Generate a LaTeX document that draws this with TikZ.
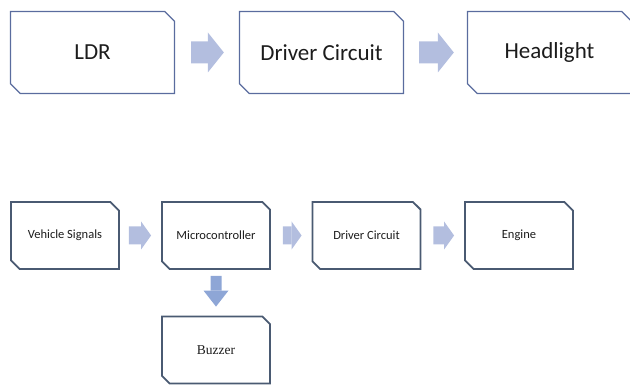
\documentclass[tikz,border=0pt]{standalone}
\usepackage{fontspec}
\setmainfont{Carlito}
\newfontfamily\buzzerfont{Liberation Serif}
\usetikzlibrary{shapes.misc,arrows.meta}

\definecolor{edgeblue}{HTML}{5A6C9E}
\definecolor{edgegrey}{HTML}{4A5A72}
\definecolor{flowfill}{HTML}{B3BEDF}
\definecolor{downfill}{HTML}{8EA6D6}
\definecolor{inktext}{HTML}{1C1C1C}

\tikzset{
  cutbox/.style={chamfered rectangle, chamfered rectangle corners={north east,south west},
    inner sep=0pt, text=inktext},
  bigbox/.style={cutbox, chamfered rectangle xsep=6.5pt,
    draw=edgeblue, line width=1.3pt, minimum width=164pt, minimum height=82pt,
    font=\fontsize{23}{27}\selectfont},
  smallbox/.style={cutbox, chamfered rectangle xsep=6pt,
    draw=edgegrey, line width=1.8pt, minimum width=108pt, minimum height=67pt,
    font=\fontsize{12.5}{15}\selectfont},
  bigflow/.style={draw=flowfill, line width=22pt,
    -{Triangle[width=40pt,length=16pt,line width=0pt]}},
  smallflow/.style={draw=flowfill, line width=18pt,
    -{Triangle[width=28pt,length=10pt,line width=0pt]}},
  downflow/.style={draw=downfill, line width=11pt,
    -{Triangle[width=25pt,length=16pt,line width=0pt]}}
}

\begin{document}
\begin{tikzpicture}[x=1pt, y=-1pt]
  \clip (0,0) rectangle (630,385);
  \useasboundingbox (0,0) rectangle (630,385);

  % Headlight control chain
  \node[bigbox] (ldr)   at (92.5,52.5)  {LDR};
  \node[bigbox] (drvA)  at (321.5,52.5) {Driver Circuit};
  \node[bigbox] (lamp)  at (549.5,52.5) {Headlight};

  \draw[bigflow, shorten <=16pt, shorten >=15pt] (ldr) -- (drvA);
  \draw[bigflow, shorten <=15pt, shorten >=13pt] (drvA) -- (lamp);

  % Engine control chain
  \node[smallbox] (vsig)  at (65,235.5)  {Vehicle Signals};
  \node[smallbox] (mcu)   at (216,235.5) {Microcontroller};
  \node[smallbox] (drvB)  at (366.5,235.5) {Driver Circuit};
  \node[smallbox] (eng)   at (519,235.5) {Engine};
  \node[smallbox, font=\buzzerfont\fontsize{13.5}{16}\selectfont] (buzz) at (216,350) {Buzzer};

  \draw[smallflow, shorten <=9pt, shorten >=10pt]  (vsig) -- (mcu);
  \draw[smallflow, shorten <=12pt, shorten >=10pt] (mcu) -- (drvB);
  \draw[smallflow, shorten <=12pt, shorten >=10pt] (drvB) -- (eng);
  \draw[downflow, shorten <=6pt, shorten >=9pt]    (mcu) -- (buzz);
\end{tikzpicture}
\end{document}
